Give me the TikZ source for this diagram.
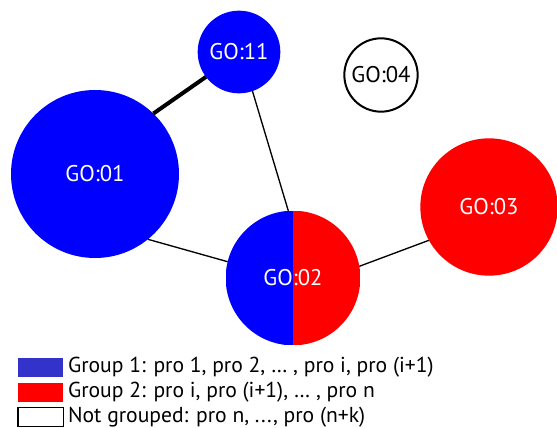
\documentclass[tikz,border=0pt]{standalone}
\usepackage{fontspec}
\setmainfont{PT Sans}
\usetikzlibrary{positioning}
\definecolor{goblue}{RGB}{0,0,255}
\definecolor{gored}{RGB}{255,0,0}
\definecolor{legblue}{RGB}{51,51,204}

\begin{document}
\begin{tikzpicture}[x=0.75pt, y=-0.75pt]
        % Define styles for shapes
        \tikzset{
            term/.style = {circle, inner sep=0pt, outer sep=0pt, text=white, font=\fontsize{17}{19}\selectfont},
            grpone/.style = {term, fill=goblue},
            grptwo/.style = {term, fill=gored},
            grpboth/.style = {term, path picture={
                \fill[goblue] (path picture bounding box.south west) rectangle (path picture bounding box.north);
                \fill[gored] (path picture bounding box.south) rectangle (path picture bounding box.north east);}},
            nogrp/.style = {term, draw=black, line width=1.5pt, fill=white, text=black},
            link/.style = {draw=black, line width=1pt},
            strong/.style = {draw=black, line width=3pt},
            legbox/.style = {draw=none, minimum width=34pt, minimum height=14pt, inner sep=0pt, outer sep=0pt},
            legtext/.style = {anchor=west, inner sep=0pt, font=\fontsize{16.2}{18}\selectfont}
        }
        \useasboundingbox (0,0) rectangle (557,428);
        % Draw terms
        \node[grpone, minimum size=126pt] (go01) at (95,174) {GO:01};
        \node[grpone, minimum size=62pt] (go11) at (239,52) {GO:11};
        \node[nogrp, minimum size=55pt] (go04) at (381,75) {GO:04};
        \node[grpboth, minimum size=101pt] (go02) at (293,278) {GO:02};
        \node[grptwo, minimum size=103pt] (go03) at (489,207) {GO:03};

        % Draw links
        \draw[strong] (go01.46) -- (go11.217);
        \draw[link] (go11.-71) -- (go02.94);
        \draw[link] (go01.-51) -- (go02.166);
        \draw[link] (go02.10) -- (go03.209);

        % Legend
        \node[legbox, fill=legblue] (legone) at (40.5,367.5) {};
        \node[legbox, fill=gored, below=4.5pt of legone] (legtwo) {};
        \node[legbox, draw=black, line width=1pt, fill=white, below=4.5pt of legtwo] (legnone) {};
        \node[legtext, right=3.5pt of legone] (txtone) {Group 1: pro 1, pro 2, \dots{} , pro i, pro (i+1)};
        \node[legtext, right=3.5pt of legtwo] (txttwo) {Group 2: pro i, pro (i+1), \dots{} , pro n};
        \node[legtext, right=3.5pt of legnone] (txtnone) {Not grouped: pro n, ..., pro (n+k)};
    \end{tikzpicture}
\end{document}
